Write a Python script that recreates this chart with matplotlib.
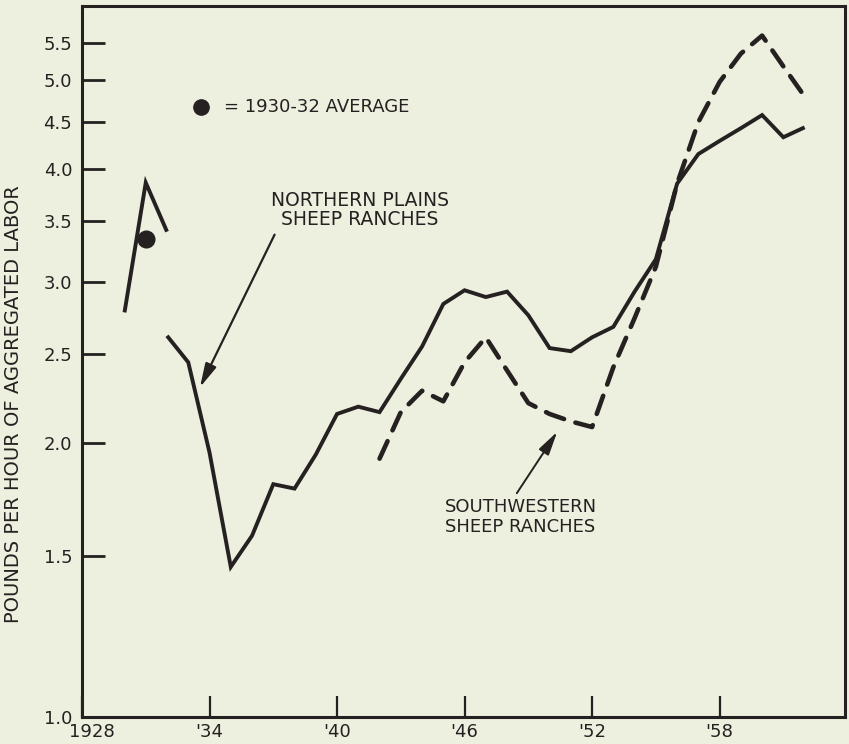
import matplotlib
matplotlib.use("Agg")
import matplotlib.pyplot as plt
import matplotlib.transforms as mtransforms
from matplotlib.ticker import FixedLocator, FixedFormatter, NullLocator

# ---------------- data ----------------
np_years_early = [1930, 1931, 1932]
np_vals_early = [2.78, 3.86, 3.41]

np_years = list(range(1932, 1963))
np_vals = [2.62, 2.45, 1.95, 1.46, 1.58, 1.80, 1.78, 1.94, 2.15, 2.19,
           2.16, 2.35, 2.55, 2.84, 2.94, 2.89, 2.93, 2.76, 2.54, 2.52,
           2.61, 2.68, 2.93, 3.18, 3.85, 4.15, 4.29, 4.43, 4.58, 4.33,
           4.44]

sw_years = list(range(1942, 1963))
sw_vals = [1.92, 2.16, 2.28, 2.22, 2.45, 2.61, 2.40, 2.21, 2.15, 2.11,
           2.08, 2.42, 2.74, 3.12, 3.85, 4.50, 4.98, 5.35, 5.60, 5.18,
           4.80]

avg_year = [1931]
avg_val = [3.35]

y_ticks = [1.0, 1.5, 2.0, 2.5, 3.0, 3.5, 4.0, 4.5, 5.0, 5.5]
y_tick_labels = ["1.0", "1.5", "2.0", "2.5", "3.0", "3.5", "4.0", "4.5", "5.0", "5.5"]
x_ticks = [1928, 1934, 1940, 1946, 1952, 1958]
x_tick_labels = ["1928", "'34", "'40", "'46", "'52", "'58"]

# ---------------- style ----------------
BG = "#edefdf"
INK = "#252120"
plt.rcParams['font.family'] = ['DejaVu Sans']

fig = plt.figure(figsize=(8.49, 7.44), dpi=100, facecolor=BG)
ax = fig.add_axes([82/849, 1 - 716.5/744, (845-82)/849, (716.5-5.7)/744])
ax.set_facecolor(BG)

ax.set_yscale('log')
ax.set_xlim(1928, 1963.9)
ax.set_ylim(1.0, 6.04)

ax.plot(np_years_early, np_vals_early, color=INK, lw=2.8,
        solid_joinstyle='miter', solid_capstyle='butt')
ax.plot(np_years, np_vals, color=INK, lw=2.8,
        solid_joinstyle='miter', solid_capstyle='butt')
ax.plot(sw_years, sw_vals, color=INK, lw=3.3, dashes=(4.2, 2.6),
        dash_capstyle='round')
ax.plot(avg_year, avg_val, 'o', color=INK, markersize=12, zorder=5)

# ticks
ax.yaxis.set_major_locator(FixedLocator(y_ticks))
ax.yaxis.set_major_formatter(FixedFormatter(y_tick_labels))
ax.yaxis.set_minor_locator(NullLocator())
ax.xaxis.set_major_locator(FixedLocator(x_ticks))
ax.xaxis.set_major_formatter(FixedFormatter(x_tick_labels))
ax.tick_params(axis='y', direction='in', length=16.5, width=2.0,
               color=INK, labelcolor=INK, labelsize=13, pad=7)
ax.tick_params(axis='x', direction='in', length=15, width=1.6,
               color=INK, labelcolor=INK, labelsize=13, pad=5)
for s in ax.spines.values():
    s.set_linewidth(2.2)
    s.set_color(INK)

# nudge the "1928" label right as in the original lettering
first = ax.xaxis.get_major_ticks()[0].label1
first.set_transform(first.get_transform() +
                    mtransforms.ScaledTranslation(10/100, 0, fig.dpi_scale_trans))

# y label
fig.text(14/849, 1 - 404.5/744, "POUNDS PER HOUR OF AGGREGATED LABOR",
         rotation=90, ha='center', va='center', fontsize=14, color=INK)

# legend for the dot
ax.plot([0.156], [0.858], 'o', color=INK, markersize=11,
        transform=ax.transAxes, clip_on=False)
ax.text(0.186, 0.858, "= 1930-32 AVERAGE", transform=ax.transAxes,
        ha='left', va='center', fontsize=13, color=INK)

# annotations
ax.annotate("NORTHERN PLAINS\nSHEEP RANCHES",
            xy=(1933.55, 2.30), xytext=(360/849, 1 - 210/744),
            textcoords='figure fraction', ha='center', va='center',
            fontsize=13.5, color=INK, linespacing=1.05,
            arrowprops=dict(arrowstyle='-|>,head_length=0.9,head_width=0.22',
                            color=INK, lw=1.6, shrinkA=2, shrinkB=0,
                            mutation_scale=16, relpos=(0.04, 0.05)))
ax.annotate("SOUTHWESTERN\nSHEEP RANCHES",
            xy=(1950.36, 2.055), xytext=(445/849, 1 - 517/744),
            textcoords='figure fraction', ha='left', va='center',
            fontsize=13, color=INK, linespacing=1.1,
            arrowprops=dict(arrowstyle='-|>,head_length=0.9,head_width=0.22',
                            color=INK, lw=1.4, shrinkA=2, shrinkB=0,
                            mutation_scale=16, relpos=(0.45, 1.0)))

fig.savefig("out.png", dpi=100, facecolor=BG)
